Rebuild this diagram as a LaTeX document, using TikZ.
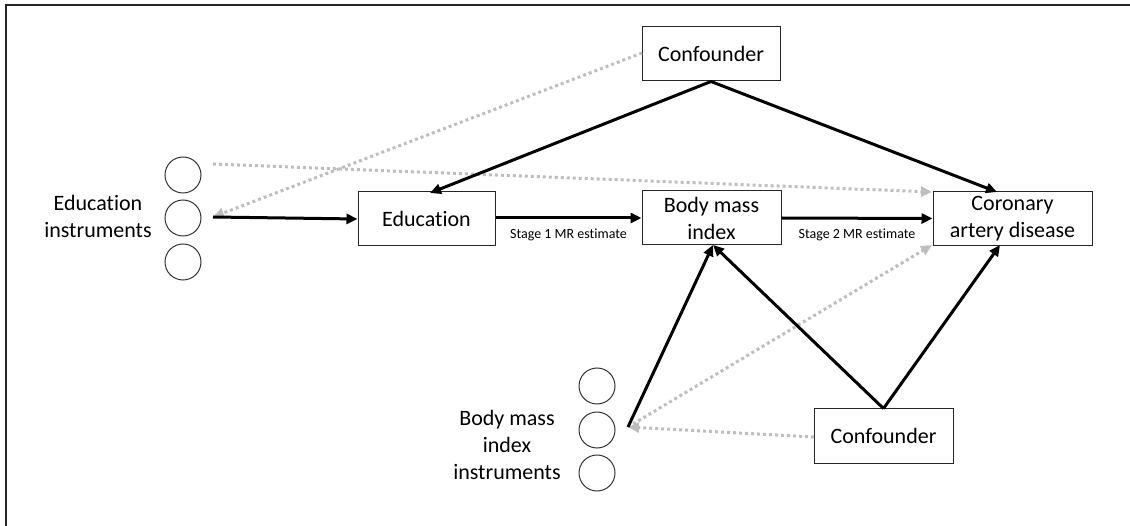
\documentclass[tikz,border=0pt]{standalone}
\usepackage{fontspec}
\setmainfont{Carlito}[Ligatures=NoCommon]
\usetikzlibrary{arrows.meta}
\definecolor{dotgray}{RGB}{190,190,190}
\begin{document}
\begin{tikzpicture}[x=1pt,y=-1pt,
  box/.style={draw=black!85,line width=1pt,minimum height=54pt,inner sep=0pt,
    align=center,font=\fontsize{22}{27}\selectfont},
  inst/.style={draw=black!80,line width=1pt,circle,minimum size=36pt,inner sep=0pt},
  lbl/.style={align=center,font=\fontsize{22}{27}\selectfont},
  small/.style={font=\fontsize{14}{16}\selectfont},
  causal/.style={line width=3pt,-{Triangle[length=11pt,width=10pt]}},
  pleio/.style={draw=dotgray,line width=3pt,dash pattern=on 3pt off 3pt,
    -{Triangle[length=11pt,width=10pt,fill=dotgray]}}]
\useasboundingbox (0,0) rectangle (1130,526);
% frame
\draw[line width=2.5pt,black!85] (6,526) -- (6,5) -- (1130,5);

% main variables
\node[box,minimum width=138pt] (conf1) at (711,54) {Confounder};
\node[box,minimum width=137pt] (edu) at (426.5,219) {Education};
\node[box,minimum width=139pt] (bmi) at (711.5,218) {Body mass\\index};
\node[box,minimum width=159pt] (cad) at (1012.5,218.5) {Coronary\\artery disease};
\node[box,minimum width=139pt] (conf2) at (883.5,436) {Confounder};

% education instruments
\node[inst] (e1) at (183,175) {};
\node[inst] (e2) at (183,218) {};
\node[inst] (e3) at (183,262) {};
\node[lbl] (elab) at (98,216) {Education\\instruments};

% body mass index instruments
\node[inst] (b1) at (597,386) {};
\node[inst] (b2) at (597,430) {};
\node[inst] (b3) at (597,473) {};
\node[lbl] (blab) at (507,445) {Body mass\\index\\instruments};

% connector end points
\coordinate (ei) at (213,217);
\coordinate (eitop) at (213,164);
\coordinate (bi) at (628,427);
\coordinate (conf1l) at (642,53);
\coordinate (conf2l) at (814,437);
\coordinate (cadnw) at (932,192);
\coordinate (cadsw) at (932,245);
\coordinate (edun) at (430,193);
\coordinate (cadn) at (997,192);
\coordinate (bmis) at (713,245);
\coordinate (cads) at (1000,245);

% pleiotropic / confounding paths (dotted)
\draw[pleio] (eitop) -- (cadnw);
\draw[pleio] (conf1l) -- (ei);
\draw[pleio] (bi) -- (cadsw);
\draw[pleio] (conf2l) -- (bi);

% causal paths
\draw[causal] (ei) -- (edu.west);
\draw[causal] (edu.east |- 0,218) -- node[small,below=6pt] (s1) {Stage 1 MR estimate} (bmi.west);
\draw[causal] (bmi.east) -- node[small,below=6pt] (s2) {Stage 2 MR estimate} (cad.west);
\draw[causal] (conf1.south) -- (edun);
\draw[causal] (conf1.south) -- (cadn);
\draw[causal] (bi) -- (bmis);
\draw[causal] (conf2.north) -- (bmis);
\draw[causal] (conf2.north) -- (cads);
\end{tikzpicture}
\end{document}
